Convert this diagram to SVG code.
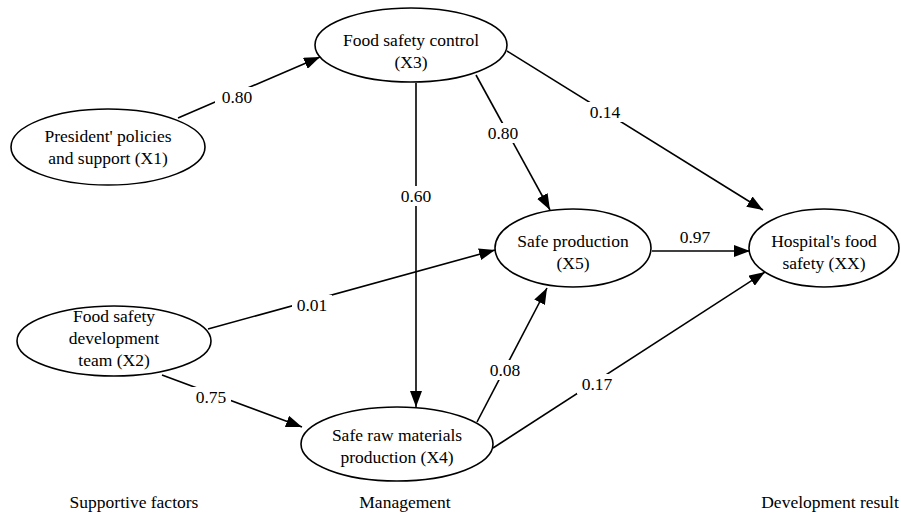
<svg xmlns="http://www.w3.org/2000/svg" width="901" height="515" viewBox="0 0 901 515">
<style>
text{font-family:Liberation Serif,DejaVu Serif,serif;font-size:17.5px;fill:#000;text-anchor:middle}
.node ellipse{fill:#fff;stroke:#000;stroke-width:1.6}
.edge line{stroke:#000;stroke-width:1.6}
.lbl rect{fill:#fff}
</style>
<defs>
<marker id="ah" viewBox="0 0 16 12" refX="16" refY="6" markerWidth="16" markerHeight="12" markerUnits="userSpaceOnUse" orient="auto">
<path d="M0,0 L16,6 L0,12 Z" fill="#000"/>
</marker>
</defs>
<rect width="901" height="515" fill="#fff"/>
<g id="connectors" class="edge">
<line x1="178" y1="118" x2="320" y2="57" marker-end="url(#ah)"/>
<line x1="416" y1="83" x2="416" y2="407" marker-end="url(#ah)" stroke-width="2"/>
<line x1="476" y1="75" x2="550" y2="210" marker-end="url(#ah)"/>
<line x1="507" y1="51" x2="763" y2="210" marker-end="url(#ah)"/>
<line x1="652" y1="251" x2="750" y2="251" marker-end="url(#ah)" stroke-width="2"/>
<line x1="208" y1="329" x2="495" y2="250" marker-end="url(#ah)"/>
<line x1="162" y1="375" x2="302" y2="427" marker-end="url(#ah)"/>
<line x1="477" y1="422" x2="547" y2="288" marker-end="url(#ah)"/>
<line x1="493" y1="448" x2="765" y2="272" marker-end="url(#ah)"/>
</g>
<g id="labels" class="lbl">
<rect x="215" y="87" width="44" height="20"/><text x="237" y="103">0.80</text>
<rect x="396" y="186" width="40" height="20"/><text x="416" y="202">0.60</text>
<rect x="483" y="123" width="40" height="20"/><text x="503" y="139">0.80</text>
<rect x="585" y="102" width="40" height="20"/><text x="605" y="118">0.14</text>
<rect x="292" y="295" width="40" height="20"/><text x="312" y="311">0.01</text>
<rect x="191" y="387" width="40" height="20"/><text x="211" y="403">0.75</text>
<rect x="485" y="360" width="40" height="20"/><text x="505" y="376">0.08</text>
<rect x="577" y="374" width="40" height="20"/><text x="597" y="390">0.17</text>
<text x="695" y="243">0.97</text>
</g>
<g id="X3" class="node"><ellipse cx="411" cy="45" rx="96" ry="37"/><text x="411" y="46">Food safety control</text><text x="411" y="68">(X3)</text></g>
<g id="X1" class="node"><ellipse cx="108" cy="147" rx="97" ry="38"/><text x="108" y="142">President' policies</text><text x="108" y="164">and support (X1)</text></g>
<g id="X2" class="node"><ellipse cx="114" cy="341" rx="97" ry="35"/><text x="114" y="322">Food safety</text><text x="114" y="344">development</text><text x="114" y="366">team (X2)</text></g>
<g id="X4" class="node"><ellipse cx="397" cy="444" rx="96" ry="37"/><text x="397" y="441">Safe raw materials</text><text x="397" y="463">production (X4)</text></g>
<g id="X5" class="node"><ellipse cx="573" cy="248" rx="78" ry="39"/><text x="573" y="247">Safe production</text><text x="573" y="269">(X5)</text></g>
<g id="XX" class="node"><ellipse cx="824" cy="248" rx="75" ry="39"/><text x="824" y="247">Hospital's food</text><text x="824" y="269">safety (XX)</text></g>
<g id="footer">
<text x="134" y="508">Supportive factors</text>
<text x="405" y="508">Management</text>
<text x="830" y="508">Development result</text>
</g>
</svg>
